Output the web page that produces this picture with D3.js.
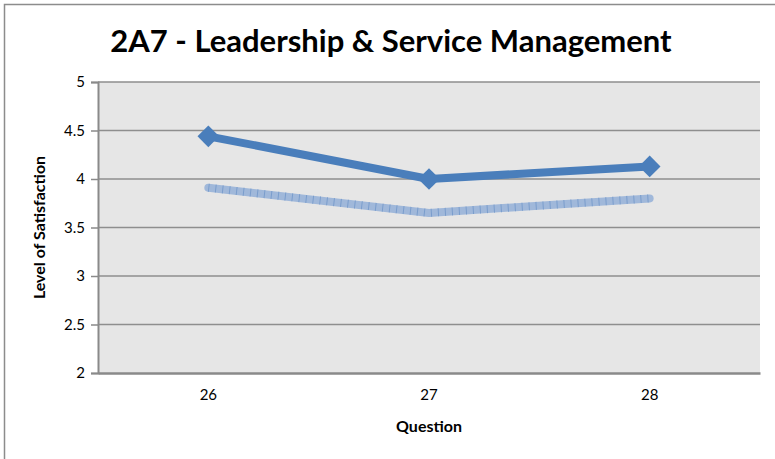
<!DOCTYPE html>
<html lang="en">
<head>
    <meta charset="UTF-8">
    <title>2A7 - Leadership &amp; Service Management</title>
    <script src="https://cdn.jsdelivr.net/npm/d3@7"></script>
    <style>
        body { margin: 0; background: #fff; }
        text { font-family: Lato, "Open Sans", sans-serif; }
    </style>
</head>
<body>
<svg width="775" height="459"></svg>
<script>
    var questions = ["26", "27", "28"];
    var seriesMain = [4.44, 4.0, 4.13];
    var seriesLight = [3.91, 3.65, 3.80];
    var yTicks = [2, 2.5, 3, 3.5, 4, 4.5, 5];

    var svg = d3.select("svg");
    // plot area edges
    var plotL = 98, plotR = 760, plotT = 82, plotB = 373;

    // chart border
    svg.append("rect")
        .attr("x", 4.5).attr("y", 4.5)
        .attr("width", 800).attr("height", 500)
        .attr("fill", "#fff")
        .attr("stroke", "#8c8c8c")
        .attr("stroke-width", 1.5);

    var x = d3.scaleBand()
        .domain(questions)
        .range([plotL, plotR]);
    var y = d3.scaleLinear()
        .domain([2, 5])
        .range([plotB, plotT]);

    // plot area
    svg.append("rect")
        .attr("x", plotL).attr("y", plotT)
        .attr("width", plotR - plotL).attr("height", plotB - plotT)
        .attr("fill", "#e6e6e6");

    // gridlines
    svg.append("g")
        .selectAll("line")
        .data(yTicks.filter(function (d) { return d > 2; }))
        .enter().append("line")
        .attr("x1", plotL).attr("x2", plotR)
        .attr("y1", function (d) { return y(d); })
        .attr("y2", function (d) { return y(d); })
        .attr("stroke", "#8e8e8e")
        .attr("stroke-width", 1.5);

    // y axis
    var yAxis = svg.append("g")
        .attr("transform", "translate(" + plotL + ",0)")
        .call(d3.axisLeft(y).tickValues(yTicks).tickSize(7).tickPadding(6)
            .tickFormat(function (d) { return d; }));
    yAxis.select(".domain").attr("stroke", "#8a8a8a").attr("stroke-width", 2);
    yAxis.selectAll(".tick line").attr("stroke", "#8a8a8a").attr("stroke-width", 1.5);
    yAxis.selectAll("text").attr("font-size", 15).attr("fill", "#000");

    // x axis
    var xAxis = svg.append("g")
        .attr("transform", "translate(0," + plotB + ")")
        .call(d3.axisBottom(x).tickSize(0).tickPadding(16));
    xAxis.select(".domain").attr("stroke", "#8a8a8a").attr("stroke-width", 2.5);
    xAxis.selectAll("text").attr("font-size", 15).attr("fill", "#000");

    function cx(d, i) { return x(questions[i]) + x.bandwidth() / 2; }

    var line = d3.line()
        .x(cx)
        .y(function (d) { return y(d); });

    // light series with hatched look
    svg.append("path")
        .datum(seriesLight)
        .attr("d", line)
        .attr("fill", "none")
        .attr("stroke", "#a0b8da")
        .attr("stroke-width", 8)
        .attr("stroke-linecap", "round")
        .attr("stroke-linejoin", "round");
    svg.append("path")
        .datum(seriesLight)
        .attr("d", line)
        .attr("fill", "none")
        .attr("stroke", "#7a9dcc")
        .attr("stroke-width", 8)
        .attr("stroke-dasharray", "1,6");

    // main series
    svg.append("path")
        .datum(seriesMain)
        .attr("d", line)
        .attr("fill", "none")
        .attr("stroke", "#4a7ebb")
        .attr("stroke-width", 8)
        .attr("stroke-linejoin", "round");
    svg.append("g")
        .selectAll("path")
        .data(seriesMain)
        .enter().append("path")
        .attr("d", d3.symbol().type(d3.symbolDiamond2).size(300))
        .attr("transform", function (d, i) {
            return "translate(" + cx(d, i) + "," + y(d) + ")";
        })
        .attr("fill", "#4a7ebb");

    // title and axis labels
    svg.append("text")
        .attr("x", 391).attr("y", 52)
        .attr("text-anchor", "middle")
        .attr("font-size", 31)
        .attr("font-weight", "bold")
        .text("2A7 - Leadership & Service Management");

    svg.append("text")
        .attr("x", (plotL + plotR) / 2).attr("y", 432)
        .attr("text-anchor", "middle")
        .attr("font-size", 16)
        .attr("font-weight", "bold")
        .text("Question");

    svg.append("text")
        .attr("transform", "translate(45," + (plotT + plotB) / 2 + ") rotate(-90)")
        .attr("text-anchor", "middle")
        .attr("font-size", 16)
        .attr("font-weight", "bold")
        .text("Level of Satisfaction");
</script>
</body>
</html>
